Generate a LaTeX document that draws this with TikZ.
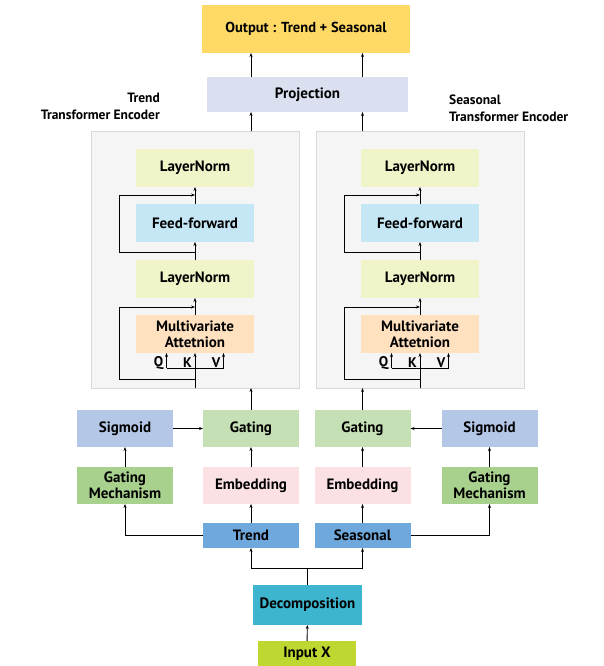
\documentclass[tikz,border=0pt]{standalone}
\usepackage{fontspec}
\setmainfont{PT Sans}
\usetikzlibrary{arrows.meta,calc}
\definecolor{outc}{HTML}{FFD966}
\definecolor{projc}{HTML}{DAE0EF}
\definecolor{lnc}{HTML}{F0F4C8}
\definecolor{ffc}{HTML}{C4E6F5}
\definecolor{attc}{HTML}{FFE1C0}
\definecolor{sigc}{HTML}{B4C7E7}
\definecolor{gatc}{HTML}{C5E0B4}
\definecolor{gmc}{HTML}{A9D18E}
\definecolor{embc}{HTML}{FCE1E4}
\definecolor{trc}{HTML}{6FA8DC}
\definecolor{decc}{HTML}{3DB5CF}
\definecolor{inc}{HTML}{BFD730}
\definecolor{encbg}{HTML}{F5F5F5}
\definecolor{encbd}{HTML}{D9D9D9}
\tikzset{
  box/.style={inner sep=0pt, outer sep=0pt, align=center, font=\fontsize{15}{16}\selectfont\bfseries},
  twoline/.style={font=\fontsize{15}{16}\selectfont\bfseries},
  encbox/.style={box, minimum width=118pt, minimum height=38pt},
  lowbox/.style={box, minimum width=96pt, minimum height=37pt},
  arr/.style={-{Stealth[length=4pt,width=3pt]}, line width=0.9pt},
  ln/.style={line width=0.9pt},
  qkv/.style={font=\fontsize{14}{15}\selectfont\bfseries, inner sep=0pt},
  lbl/.style={font=\fontsize{13.5}{17}\selectfont\bfseries, inner sep=0pt},
}
\begin{document}
\begin{tikzpicture}[x=1pt,y=-1pt]
\useasboundingbox (0,0) rectangle (603,666);
% top
\node[box, fill=outc, minimum width=208pt, minimum height=48pt, font=\fontsize{14.5}{16}\selectfont\bfseries] (out) at (306,29) {Output : Trend + Seasonal};
\node[box, fill=projc, minimum width=201pt, minimum height=35pt] (proj) at (307.5,94.5) {Projection};
\node[lbl, anchor=north east, align=right] (tlab) at (160,93) {Trend\\Transformer Encoder};
\node[lbl, anchor=north west, align=left] (slab) at (449,95) {Seasonal\\Transformer Encoder};
% encoder backgrounds
\node[inner sep=0pt, outer sep=0pt, fill=encbg, draw=encbd, line width=0.6pt, minimum width=208pt, minimum height=257pt] (encL) at (195,259.5) {};
\node[inner sep=0pt, outer sep=0pt, fill=encbg, draw=encbd, line width=0.6pt, minimum width=208pt, minimum height=257pt] (encR) at (420,259.5) {};
% left encoder
\node[encbox, fill=lnc] (lnaL) at (195,168) {LayerNorm};
\node[encbox, fill=ffc] (ffL) at (195,223) {Feed-forward};
\node[encbox, fill=lnc] (lnbL) at (195,279) {LayerNorm};
\node[encbox, fill=attc, twoline] (attL) at (195,334) {Multivariate\\Attetnion};
% right encoder
\node[encbox, fill=lnc] (lnaR) at (420,168) {LayerNorm};
\node[encbox, fill=ffc] (ffR) at (420,223) {Feed-forward};
\node[encbox, fill=lnc] (lnbR) at (420,279) {LayerNorm};
\node[encbox, fill=attc, twoline] (attR) at (420,334) {Multivariate\\Attetnion};
% lower left
\node[lowbox, fill=sigc] (sigL) at (125,428.5) {Sigmoid};
\node[lowbox, fill=gatc] (gatL) at (251,428.5) {Gating};
\node[lowbox, fill=gmc, twoline] (gmL) at (125,485.5) {Gating\\Mechanism};
\node[lowbox, fill=embc] (embL) at (251,485.5) {Embedding};
\node[lowbox, fill=trc, minimum height=25pt] (trL) at (251,535.5) {Trend};
% lower right
\node[lowbox, fill=gatc] (gatR) at (362.5,428.5) {Gating};
\node[lowbox, fill=sigc] (sigR) at (489.5,428.5) {Sigmoid};
\node[lowbox, fill=embc] (embR) at (362.5,485.5) {Embedding};
\node[lowbox, fill=gmc, twoline] (gmR) at (489.5,485.5) {Gating\\Mechanism};
\node[lowbox, fill=trc, minimum height=25pt] (seR) at (362.5,535.5) {Seasonal};
% bottom
\node[box, fill=decc, minimum width=109pt, minimum height=40pt] (dec) at (307.5,605) {Decomposition};
\node[box, fill=inc, minimum width=98pt, minimum height=26pt] (inp) at (307,654) {Input X};
% connectors top
\draw[arr] (gatL |- proj.north) -- (gatL |- out.south);
\draw[arr] (gatR |- proj.north) -- (gatR |- out.south);
\draw[arr] (gatL |- encL.north) -- (gatL |- proj.south);
\draw[arr] (gatR |- encR.north) -- (gatR |- proj.south);
% encoders internals
\foreach \s/\lx in {L/119,R/344}{
  \draw[arr] (att\s.north) -- (lnb\s.south);
  \draw[arr] (lnb\s.north) -- (ff\s.south);
  \draw[arr] (ff\s.north) -- (lna\s.south);
  \coordinate (bus\s) at ($(att\s.south)+(0,15)$);
  \coordinate (q\s) at ($(bus\s)+(-28.5,0)$);
  \coordinate (v\s) at ($(bus\s)+(28.5,0)$);
  \draw[ln] (att\s.south |- enc\s.south) -- (bus\s);
  \draw[ln] (q\s) -- (v\s);
  \draw[arr] (q\s) -- (q\s |- att\s.south);
  \draw[arr] (bus\s) -- (att\s.south);
  \draw[arr] (v\s) -- (v\s |- att\s.south);
  \node[qkv, anchor=east] (Ql\s) at ($(q\s |- att\s.south)+(-3,10)$) {Q};
  \node[qkv, anchor=east] (Kl\s) at ($(att\s.south)+(-3,10)$) {K};
  \node[qkv, anchor=east] (Vl\s) at ($(v\s |- att\s.south)+(-3,10)$) {V};
  \coordinate (ra\s) at ($(att\s.south)+(0,26)$);
  \coordinate (rb\s) at ($(lnb\s.south)+(0,9)$);
  \draw[arr] (ra\s) -- (\lx,0 |- ra\s) -- (\lx,0 |- rb\s) -- (rb\s);
  \coordinate (rc\s) at ($(lnb\s.north)+(0,-8)$);
  \coordinate (rd\s) at ($(lna\s.south)+(0,8)$);
  \draw[arr] (rc\s) -- (\lx,0 |- rc\s) -- (\lx,0 |- rd\s) -- (rd\s);
}
% lower connectors
\draw[arr] (gatL.north) -- (gatL |- encL.south);
\draw[arr] (gatR.north) -- (gatR |- encR.south);
\draw[arr] (sigL) -- (gatL);
\draw[arr] (sigR) -- (gatR);
\draw[arr] (gmL) -- (sigL);
\draw[arr] (gmR) -- (sigR);
\draw[arr] (embL) -- (gatL);
\draw[arr] (embR) -- (gatR);
\draw[arr] (trL) -- (embL);
\draw[arr] (seR) -- (embR);
\draw[arr] (trL.west) -| (gmL.south);
\draw[arr] (seR.east) -| (gmR.south);
\coordinate (split) at ($(dec.north)+(0,-17)$);
\draw[ln] (dec.north) -- (split);
\draw[arr] (split) -| (trL.south);
\draw[arr] (split) -| (seR.south);
\draw[arr] (inp) -- (dec);
\end{tikzpicture}
\end{document}
